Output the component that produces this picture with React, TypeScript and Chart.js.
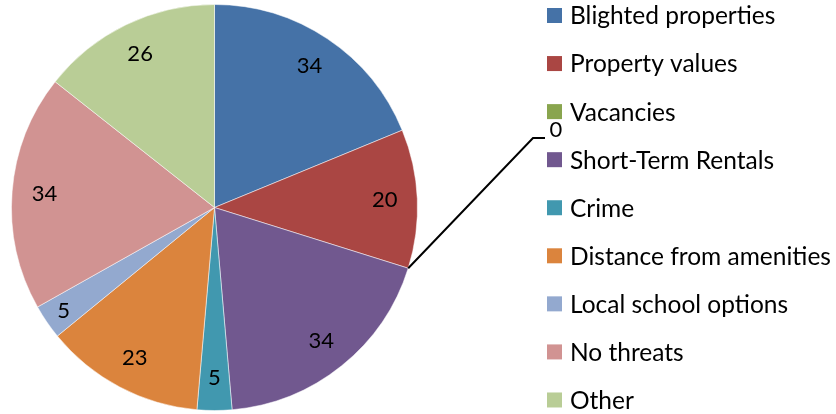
import React, { useEffect, useRef } from "react";
import { Chart, registerables } from "chart.js";

Chart.register(...registerables);

const categories = [
  "Blighted properties",
  "Property values",
  "Vacancies",
  "Short-Term Rentals",
  "Crime",
  "Distance from amenities",
  "Local school options",
  "No threats",
  "Other",
];
const values = [34, 20, 0, 34, 5, 23, 5, 34, 26];
const colors = [
  "#4572A7",
  "#AA4643",
  "#89A54E",
  "#71588F",
  "#4198AF",
  "#DB843D",
  "#93A9CF",
  "#D19392",
  "#B9CD96",
];

const FONT = "Lato, 'Noto Sans', sans-serif";

const labelPlugin = {
  id: "customLabels",
  afterDraw(chart: any) {
    const ctx = chart.ctx;
    const meta = chart.getDatasetMeta(0);
    ctx.save();
    ctx.fillStyle = "#000";
    ctx.textAlign = "center";
    ctx.textBaseline = "middle";
    ctx.font = `22px ${FONT}`;
    meta.data.forEach((arc: any, i: number) => {
      const { x, y, startAngle, endAngle, outerRadius } = arc.getProps(
        ["x", "y", "startAngle", "endAngle", "outerRadius"],
        true
      );
      const v = values[i];
      const mid = (startAngle + endAngle) / 2;
      if (v === 0) {
        const sx = x + outerRadius * Math.cos(mid);
        const sy = y + outerRadius * Math.sin(mid);
        ctx.strokeStyle = "#000";
        ctx.lineWidth = 2;
        ctx.beginPath();
        ctx.moveTo(sx, sy);
        ctx.lineTo(533, 138);
        ctx.lineTo(545, 138);
        ctx.stroke();
        ctx.fillText(String(v), 556, 130);
        return;
      }
      const frac = i === 6 ? 0.9 : 0.84;
      const r = outerRadius * frac;
      ctx.fillText(String(v), x + r * Math.cos(mid), y + r * Math.sin(mid));
    });
    // legend
    ctx.textAlign = "left";
    ctx.font = `24.5px ${FONT}`;
    categories.forEach((c, i) => {
      const cy = 15.5 + i * 48.06;
      ctx.fillStyle = colors[i];
      ctx.fillRect(547, cy - 7.5, 15, 15);
      ctx.fillStyle = "#000";
      ctx.fillText(c, 570, cy + 1);
    });
    ctx.restore();
  },
};

export default function App() {
  const ref = useRef<HTMLCanvasElement>(null);
  useEffect(() => {
    if (!ref.current) return;
    const chart = new Chart(ref.current, {
      type: "pie",
      data: {
        labels: categories,
        datasets: [
          {
            data: values,
            backgroundColor: colors,
            borderColor: "rgba(255,255,255,0.5)",
            borderWidth: 1,
          },
        ],
      },
      options: {
        animation: false,
        responsive: false,
        layout: { padding: { left: 11, top: 4, bottom: 3, right: 418 } },
        plugins: {
          legend: { display: false },
          tooltip: { enabled: false },
        },
      },
      plugins: [labelPlugin],
    });
    return () => chart.destroy();
  }, []);
  return (
    <div style={{ position: "fixed", left: 0, top: 0, width: 836, height: 414, background: "#fff" }}>
      <canvas ref={ref} width={836} height={414} style={{ width: 836, height: 414 }} />
    </div>
  );
}
